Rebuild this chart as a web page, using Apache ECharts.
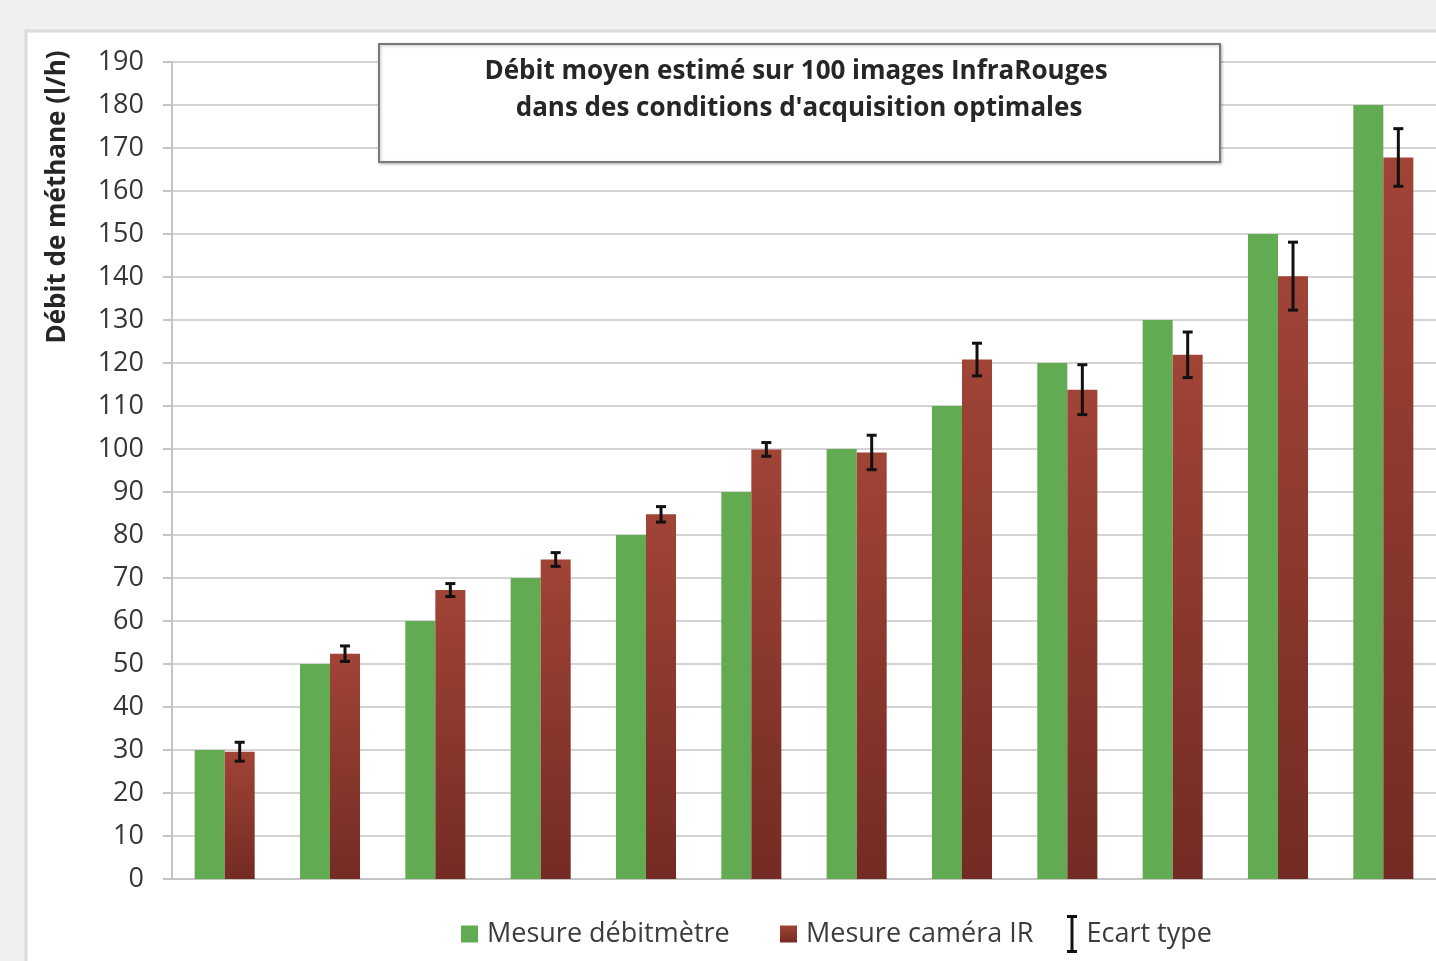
<!DOCTYPE html>
<html>
<head>
<meta charset="utf-8">
<script src="https://cdn.jsdelivr.net/npm/echarts@6/dist/echarts.min.js"></script>
<style>
html,body{margin:0;padding:0;background:#eef0f2;}
#c{width:1436px;height:961px;}
</style>
</head>
<body>
<div id="c"></div>
<script>
var categories = ['1','2','3','4','5','6','7','8','9','10','11','12'];
var debitmetre = [30, 50, 60, 70, 80, 90, 100, 110, 120, 130, 150, 180];
var camera = [29.6, 52.4, 67.2, 74.3, 84.8, 99.9, 99.2, 120.8, 113.8, 121.9, 140.2, 167.8];
var ecart = [2.2, 1.8, 1.5, 1.6, 1.8, 1.6, 4.0, 3.8, 5.8, 5.3, 7.9, 6.7];
var yTicks = {min: 0, max: 190, interval: 10};
var titleLines = ['Débit moyen estimé sur 100 images InfraRouges', "dans des conditions d'acquisition optimales"];
var yName = 'Débit de méthane (l/h)';
var seriesNames = ['Mesure débitmètre', 'Mesure caméra IR', 'Ecart type'];

var FONT = '"Open Sans", "Noto Sans", sans-serif';
var CAT_GAP = 0.43;

var errData = camera.map(function (v, i) { return [i, v, ecart[i]]; });

function legendItem(name, left, icon, w, h) {
  return {
    data: [{name: name, icon: icon}], left: left, top: 934 - Math.max(h, 30) / 2, padding: 0,
    itemWidth: w, itemHeight: h, itemGap: 0,
    textStyle: {fontFamily: FONT, fontSize: 27, color: '#3c3c3c', padding: [0, 0, 0, 4], lineHeight: 30}
  };
}

var chart = echarts.init(document.getElementById('c'), null, {renderer: 'canvas'});
chart.setOption({
  backgroundColor: '#eef0f2',
  animation: false,
  graphic: [
    {type: 'rect', z: -10, shape: {x: 26, y: 31, width: 1440, height: 960},
     style: {fill: '#ffffff', stroke: '#d9dadc', lineWidth: 3}},
    {type: 'rect', z: 10, shape: {x: 379, y: 44, width: 841, height: 118},
     style: {fill: '#ffffff', stroke: '#7a7a7a', lineWidth: 2, shadowColor: 'rgba(0,0,0,0.25)', shadowBlur: 3, shadowOffsetX: 1, shadowOffsetY: 1}},
    {type: 'text', z: 11, x: 796, y: 72,
     style: {text: titleLines[0], font: 'bold 26px ' + FONT, fill: '#262626', align: 'center', verticalAlign: 'middle'}},
    {type: 'text', z: 11, x: 799, y: 109,
     style: {text: titleLines[1], font: 'bold 26px ' + FONT, fill: '#262626', align: 'center', verticalAlign: 'middle'}},
    {type: 'text', z: 11, x: 58, y: 197, rotation: Math.PI / 2,
     style: {text: yName, font: 'bold 26px ' + FONT, fill: '#262626', align: 'center', verticalAlign: 'middle'}}
  ],
  grid: {left: 172, top: 62, right: 0, bottom: 82, containLabel: false},
  legend: [
    legendItem(seriesNames[0], 461, 'rect', 17, 17),
    legendItem(seriesNames[1], 780, 'rect', 17, 17),
    legendItem(seriesNames[2], 1067, 'path://M0,0 H10 V3 H6.5 V35 H10 V38 H0 V35 H3.5 V3 H0 Z', 11, 38)
  ],
  xAxis: {
    type: 'category', data: categories,
    axisLine: {show: true, lineStyle: {color: '#c4c4c4', width: 2}},
    axisTick: {show: false}, axisLabel: {show: false}
  },
  yAxis: {
    type: 'value', min: yTicks.min, max: yTicks.max, interval: yTicks.interval,
    axisLine: {show: true, lineStyle: {color: '#c4c4c4', width: 2}},
    axisTick: {show: true, length: 9, lineStyle: {color: '#c4c4c4', width: 2}},
    splitLine: {show: true, lineStyle: {color: '#d4d4d4', width: 2}},
    axisLabel: {fontFamily: FONT, fontSize: 27, color: '#363636', margin: 28}
  },
  series: [
    {name: seriesNames[0], type: 'bar', data: debitmetre, barGap: '0%', barCategoryGap: (CAT_GAP * 100) + '%',
     itemStyle: {color: '#62ab53'}},
    {name: seriesNames[1], type: 'bar', data: camera, barGap: '0%', barCategoryGap: (CAT_GAP * 100) + '%',
     itemStyle: {color: new echarts.graphic.LinearGradient(0, 0, 0, 1, [
       {offset: 0, color: '#a04436'}, {offset: 1, color: '#742b23'}])}},
    {name: seriesNames[2], type: 'custom', data: errData, z: 5,
     itemStyle: {color: '#111111'},
     renderItem: function (params, api) {
       var idx = api.value(0), v = api.value(1), e = api.value(2);
       var catW = api.size([1, 0])[0];
       var bw = catW * (1 - CAT_GAP) / 2;
       var top = api.coord([idx, v + e]);
       var bot = api.coord([idx, v - e]);
       var x = top[0] + bw / 2;
       var cap = 5;
       var st = {stroke: '#111111', lineWidth: 3};
       return {type: 'group', children: [
         {type: 'line', shape: {x1: x, y1: top[1], x2: x, y2: bot[1]}, style: st},
         {type: 'line', shape: {x1: x - cap, y1: top[1], x2: x + cap, y2: top[1]}, style: st},
         {type: 'line', shape: {x1: x - cap, y1: bot[1], x2: x + cap, y2: bot[1]}, style: st}
       ]};
     }}
  ]
});
</script>
</body>
</html>
